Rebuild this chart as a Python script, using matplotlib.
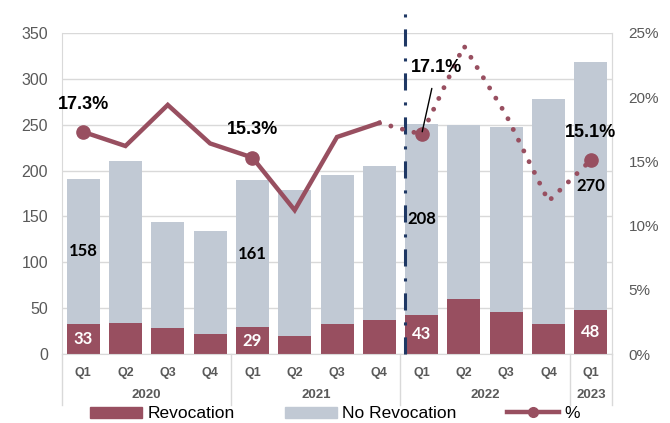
import numpy as np
import matplotlib.pyplot as plt
from matplotlib.lines import Line2D
from matplotlib.patches import Patch
import matplotlib.transforms as mtransforms

plt.rcParams['font.family'] = ['Liberation Sans', 'DejaVu Sans']

quarters = ['Q1', 'Q2', 'Q3', 'Q4', 'Q1', 'Q2', 'Q3', 'Q4',
            'Q1', 'Q2', 'Q3', 'Q4', 'Q1']
years = ['2020', '2021', '2022', '2023']
year_sizes = [4, 4, 4, 1]
revocation = [33, 34, 28, 22, 29, 20, 33, 37, 43, 60, 46, 33, 48]
no_revocation = [158, 176, 116, 112, 161, 159, 162, 168, 208, 190, 201, 245, 270]
pct = [17.3, 16.2, 19.4, 16.4, 15.3, 11.2, 16.9, 18.0, 17.1, 24.0, 18.6, 11.9, 15.1]
labelled = [0, 4, 8, 12]   # quarters with data labels
split = 7                  # last actual quarter before the dotted part

RED = '#984F60'
GREY = '#C1C9D4'
TXT = '#595959'
GRID = '#D9D9D9'

x = np.arange(len(quarters))
rev = np.array(revocation)
norev = np.array(no_revocation)
p = np.array(pct)

fig = plt.figure(figsize=(6.7, 4.23), dpi=100)
ax = fig.add_axes([62 / 670, 1 - 354 / 423, 550 / 670, 321 / 423])
ax2 = ax.twinx()

ax.bar(x, rev, 0.78, color=RED, zorder=2)
ax.bar(x, norev, 0.78, bottom=rev, color=GREY, zorder=2)

ax.set_xlim(-0.5, len(x) - 0.5)
ax.set_ylim(0, 350)
ax.set_yticks(range(0, 351, 50))
ax.yaxis.grid(True, color=GRID, lw=1, zorder=0)
ax.set_axisbelow(True)
ax.tick_params(axis='y', length=0, pad=10, labelsize=11.5, labelcolor=TXT)
ax.set_xticks(x)
ax.set_xticklabels(quarters, fontsize=9, fontweight='bold', color=TXT)
ax.tick_params(axis='x', length=0, pad=9)
ax.spines['top'].set_visible(False)
for s in ['left', 'right', 'bottom']:
    ax.spines[s].set_color(GRID)

# year labels and group separators
trans = mtransforms.blended_transform_factory(ax.transData, ax.transAxes)
start = -0.5
ax.plot([start, start], [0, -0.159], color=GRID, lw=1, transform=trans, clip_on=False)
for yr, n in zip(years, year_sizes):
    ax.text(start + n / 2, -0.128, yr, transform=trans, ha='center', va='center',
            fontsize=9.5, fontweight='bold', color=TXT)
    start += n
    ax.plot([start, start], [0, -0.159], color=GRID, lw=1, transform=trans, clip_on=False)

# forecast divider
ax.plot([7.6, 7.6], [0, 1.07], color='#1F3864', lw=2.2, transform=trans, clip_on=False,
        dashes=(5.6, 3.9, 1, 3.9), zorder=3)

# bar data labels
for i in labelled:
    ax.text(x[i], rev[i] / 2, str(rev[i]), ha='center', va='center', color='white',
            fontsize=12, fontweight='bold', family='Lato', zorder=4)
    ax.text(x[i], rev[i] + norev[i] / 2, str(norev[i]), ha='center', va='center',
            color='black', fontsize=12, fontweight='bold', family='Lato', zorder=4)

# percentage line
ax2.plot(x[:split + 1], p[:split + 1], color=RED, lw=3.2, solid_joinstyle='miter')
ax2.plot(x[split:], p[split:], color=RED, lw=3.5, ls=(0, (0.01, 2.45)),
         dash_capstyle='round')
ax2.plot(x[labelled], p[labelled], 'o', color=RED, ms=9.5)
ax2.set_ylim(0, 25)
ax2.set_yticks(range(0, 26, 5))
ax2.set_yticklabels([f'{v}%' for v in range(0, 26, 5)])
ax2.tick_params(axis='y', length=0, pad=12, labelsize=11, labelcolor=TXT)
for s in ['top', 'left', 'bottom']:
    ax2.spines[s].set_visible(False)
ax2.spines['right'].set_color(GRID)

for i in [0, 4, 12]:
    ax2.text(x[i], p[i] + 2.15, f'{p[i]:.1f}%', ha='center', va='center',
             fontsize=13, fontweight='bold')
ax2.annotate(f'{p[8]:.1f}%', xy=(x[8], p[8]), xytext=(8.35, 22.3),
             ha='center', va='center', fontsize=13, fontweight='bold',
             arrowprops=dict(arrowstyle='-', color='black', lw=1, shrinkA=7, shrinkB=2))

handles = [Patch(color=RED), Patch(color=GREY),
           Line2D([], [], color=RED, lw=3.2, marker='o', ms=7)]
fig.legend(handles, ['Revocation', 'No Revocation', '%'], ncol=3, loc='center',
           bbox_to_anchor=(0.5, 0.022), frameon=False, fontsize=12.5,
           handlelength=3.0, handleheight=0.6, handletextpad=0.3, columnspacing=2.9)

fig.savefig('out.png', dpi=100)
